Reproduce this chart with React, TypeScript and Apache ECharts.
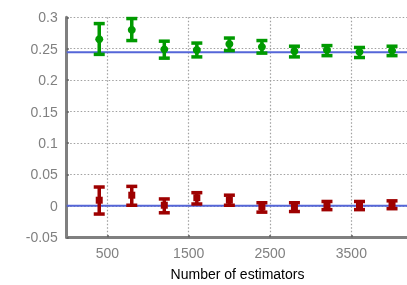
import React, { useEffect, useRef } from "react";
import * as echarts from "echarts";

const estimators = [400, 800, 1200, 1600, 2000, 2400, 2800, 3200, 3600, 4000];
const greenMean = [0.265, 0.28, 0.249, 0.248, 0.2575, 0.253, 0.246, 0.248, 0.245, 0.247];
const greenHigh = [0.29, 0.298, 0.262, 0.259, 0.267, 0.263, 0.254, 0.255, 0.252, 0.254];
const greenLow = [0.241, 0.263, 0.235, 0.237, 0.247, 0.243, 0.237, 0.239, 0.236, 0.239];
const redMean = [0.009, 0.017, 0.001, 0.013, 0.009, -0.002, -0.002, 0.0005, 0.0, 0.0016];
const redHigh = [0.03, 0.031, 0.011, 0.021, 0.017, 0.005, 0.005, 0.007, 0.007, 0.008];
const redLow = [-0.013, 0.001, -0.011, 0.003, 0.001, -0.01, -0.009, -0.006, -0.006, -0.0045];
const referenceLevels = [0.2443, 0];
const xTickLabels = [500, 1500, 2500, 3500];

const GREEN = "#009a00";
const RED = "#9e0000";
const BLUE = "#5566d8";
const GRAY = "#808080";

function errorSeries(mean: number[], low: number[], high: number[], color: string, square: boolean) {
  return {
    type: "custom",
    z: 5,
    data: estimators.map((x, i) => [x, mean[i], low[i], high[i]]),
    encode: { x: 0, y: [1, 2, 3] },
    renderItem: (_params: any, api: any) => {
      const x = api.value(0);
      const c = api.coord([x, api.value(1)]);
      const lo = api.coord([x, api.value(2)]);
      const hi = api.coord([x, api.value(3)]);
      const hw = 5.5;
      const st = { stroke: color, lineWidth: 3.5 };
      const children: any[] = [
        { type: "line", shape: { x1: c[0], y1: hi[1], x2: c[0], y2: lo[1] }, style: st },
        { type: "line", shape: { x1: c[0] - hw, y1: hi[1], x2: c[0] + hw, y2: hi[1] }, style: st },
        { type: "line", shape: { x1: c[0] - hw, y1: lo[1], x2: c[0] + hw, y2: lo[1] }, style: st },
      ];
      if (square) {
        children.push({ type: "rect", shape: { x: c[0] - 3.5, y: c[1] - 3.5, width: 7, height: 7 }, style: { fill: color } });
      } else {
        children.push({ type: "circle", shape: { cx: c[0], cy: c[1], r: 4 }, style: { fill: color } });
      }
      return { type: "group", children };
    },
  };
}

export default function App() {
  const ref = useRef<HTMLDivElement>(null);
  useEffect(() => {
    if (!ref.current) return;
    const chart = echarts.init(ref.current, null, { renderer: "svg" });
    const xMin = 0;
    const xMax = 4200;
    chart.setOption({
      animation: false,
      grid: { left: 66.7, top: 17.3, right: -1.3, bottom: 47.7, outerBoundsMode: "none", containLabel: false },
      xAxis: {
        type: "value",
        min: xMin,
        max: xMax,
        name: "Number of estimators",
        nameLocation: "middle",
        nameGap: 30,
        nameTextStyle: { color: "#000", fontSize: 14, fontFamily: "Liberation Sans" },
        axisLine: { show: true, onZero: false, lineStyle: { color: GRAY, width: 3 } },
        axisTick: { show: true, inside: true, length: 2, customValues: xTickLabels, lineStyle: { color: "#666", width: 2 } },
        axisLabel: {
          customValues: xTickLabels,
          color: GRAY,
          fontSize: 14,
          fontFamily: "Liberation Sans",
          margin: 9,
          formatter: (v: number) => String(v),
        },
        splitLine: { show: true, lineStyle: { color: "#a0a0a0", type: [1.5, 2], width: 1.2 } },
      },
      yAxis: {
        type: "value",
        min: -0.05,
        max: 0.3,
        interval: 0.05,
        axisLine: { show: true, onZero: false, lineStyle: { color: GRAY, width: 3 } },
        axisTick: { show: true, inside: true, length: 2, lineStyle: { color: "#666", width: 2 } },
        axisLabel: {
          color: GRAY,
          fontSize: 14,
          fontFamily: "Liberation Sans",
          margin: 9,
          formatter: (v: number) => String(+v.toFixed(2)),
        },
        splitLine: { show: true, lineStyle: { color: "#a0a0a0", type: [1.5, 2], width: 1.2 } },
      },
      series: [
        ...referenceLevels.map((lvl) => ({
          type: "line",
          silent: true,
          symbol: "none",
          z: 3,
          lineStyle: { color: BLUE, width: 2 },
          data: [[xMin, lvl], [xMax, lvl]],
        })),
        errorSeries(greenMean, greenLow, greenHigh, GREEN, false),
        errorSeries(redMean, redLow, redHigh, RED, true),
      ],
    });
    return () => chart.dispose();
  }, []);
  return <div ref={ref} style={{ position: "fixed", left: 0, top: 0, width: 407, height: 285 }} />;
}
